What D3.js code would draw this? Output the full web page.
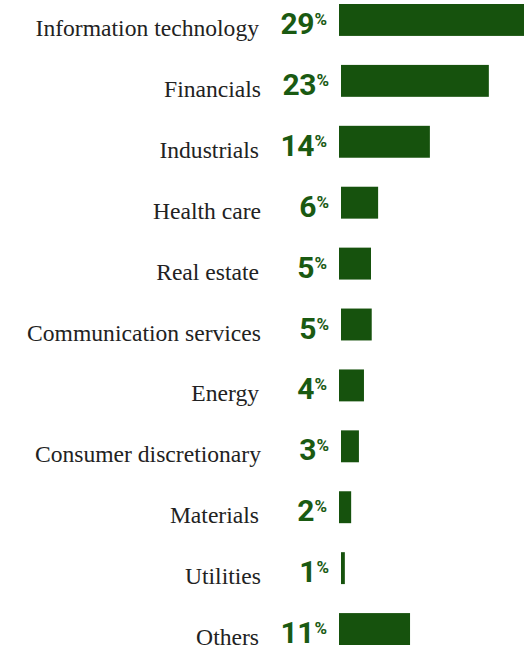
<!DOCTYPE html>
<html>
<head>
<meta charset="utf-8">
<script src="https://cdn.jsdelivr.net/npm/d3@7"></script>
<style>
  html, body { margin: 0; padding: 0; background: #fff; }
  svg { display: block; }
</style>
</head>
<body>
<div id="chart"></div>
<script>
const categories = ["Information technology", "Financials", "Industrials", "Health care", "Real estate",
  "Communication services", "Energy", "Consumer discretionary", "Materials", "Utilities", "Others"];
const values = [29, 23.1, 14.2, 5.8, 5.0, 4.8, 3.9, 2.8, 1.9, 0.6, 11.1];
const valueLabels = ["29", "23", "14", "6", "5", "5", "4", "3", "2", "1", "11"];

const W = 524, H = 651;
const barX0 = 339;
const svg = d3.select("#chart").append("svg").attr("width", W).attr("height", H);

const y = d3.scaleBand().domain(categories).range([4, 645]).paddingInner(0.476).paddingOuter(0);
const x = d3.scaleLinear().domain([0, 29]).range([0, 185.6]);

const rows = svg.selectAll("g.row").data(categories).join("g")
  .attr("class", "row")
  .attr("transform", (d, i) => `translate(${barX0 + (i % 2) * 2},${y(d)})`);

rows.append("rect")
  .attr("x", 0).attr("y", 0)
  .attr("width", (d, i) => x(values[i]))
  .attr("height", y.bandwidth())
  .attr("fill", "#16520d");

rows.append("text")
  .attr("x", -80).attr("y", 32)
  .attr("text-anchor", "end")
  .attr("font-family", "'Liberation Serif', serif")
  .attr("font-size", 23.6)
  .attr("fill", "#222")
  .text(d => d);

const vt = rows.append("text")
  .attr("x", -12).attr("y", 30)
  .attr("text-anchor", "end")
  .attr("font-family", "Roboto, sans-serif")
  .attr("font-weight", 700)
  .attr("fill", "#1a5a12");
vt.append("tspan").attr("font-size", 30).attr("letter-spacing", -0.5).text((d, i) => valueLabels[i]);
vt.append("tspan").attr("font-size", 17).attr("dy", -9).attr("dx", 0.5).text("%");
</script>
</body>
</html>
